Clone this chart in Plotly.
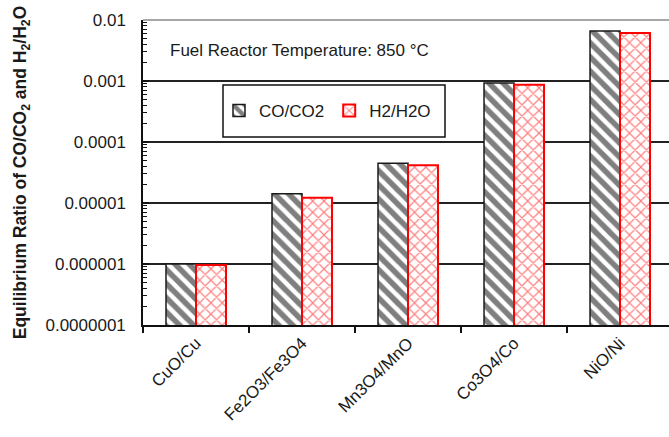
import plotly.graph_objects as go

# Redox couples and equilibrium ratios at 850 °C
couples = ["CuO/Cu", "Fe2O3/Fe3O4", "Mn3O4/MnO", "Co3O4/Co", "NiO/Ni"]
co_co2 = [1.0e-6, 1.42e-5, 4.5e-5, 9.3e-4, 6.6e-3]
h2_h2o = [9.6e-7, 1.22e-5, 4.15e-5, 8.7e-4, 6.1e-3]

y_tick_vals = [1e-7, 1e-6, 1e-5, 1e-4, 1e-3, 1e-2]
y_tick_text = ["0.0000001", "0.000001", "0.00001", "0.0001", "0.001", "0.01"]

FONT = "Liberation Sans, Arial, sans-serif"
TXT = "#1a1a1a"

W, H = 669, 437
ML, MT, MB = 143, 20, 112
PW, PH = W - ML, H - MT - MB


def px(xp):
    return (xp - ML) / PW


def py(yp):
    return (H - MB - yp) / PH


minor_vals = [m * 10.0 ** e for e in range(-7, -2) for m in range(2, 10)]

fig = go.Figure()
fig.add_trace(go.Bar(
    x=couples, y=co_co2, name="CO/CO2",
    marker=dict(color="white",
                line=dict(color="#1a1a1a", width=1.5),
                pattern=dict(shape="\\", fgcolor="#000000", bgcolor="white",
                             size=10, solidity=0.55)),
))
fig.add_trace(go.Bar(
    x=couples, y=h2_h2o, name="H2/H2O",
    marker=dict(color="white",
                line=dict(color="#ff0000", width=2),
                pattern=dict(shape="x", fgcolor="#ff0000", bgcolor="white",
                             size=8, solidity=0.28)),
))

fig.update_layout(
    width=W, height=H,
    margin=dict(l=ML, r=0, t=MT, b=MB),
    paper_bgcolor="white", plot_bgcolor="white",
    barmode="group", bargap=0.434, bargroupgap=0,
    font=dict(family=FONT, size=17, color=TXT),
    showlegend=True,
    legend=dict(orientation="h", x=px(219), y=py(111),
                xanchor="left", yanchor="middle",
                bgcolor="rgba(0,0,0,0)", borderwidth=0,
                font=dict(family=FONT, size=17, color=TXT),
                itemclick=False),
)

fig.update_xaxes(
    type="category", range=[-0.5, 4.462],
    showline=True, linecolor="#111111", linewidth=1.5,
    ticks="outside", tickson="boundaries", ticklen=6,
    tickcolor="#111111", tickwidth=1.5,
    tickangle=-45, showgrid=False,
    tickfont=dict(family=FONT, size=17, color=TXT),
)

fig.update_yaxes(
    type="log", range=[-7, -2],
    tickmode="array", tickvals=y_tick_vals, ticktext=y_tick_text,
    showline=True, linecolor="#111111", linewidth=1.5,
    ticks="inside", ticklen=6, tickcolor="#111111", tickwidth=1.5,
    ticklabelstandoff=12,
    showgrid=True, gridcolor="#222222", gridwidth=1.5,
    minor=dict(tickmode="array", tickvals=minor_vals, ticks="inside",
               ticklen=4, tickcolor="#111111", tickwidth=1, showgrid=False),
    tickfont=dict(family=FONT, size=17, color=TXT),
    title=dict(text="<b>Equilibrium Ratio of CO/CO<sub>2</sub> and H<sub>2</sub>/H<sub>2</sub>O</b>",
               font=dict(family=FONT, size=17.5, color=TXT), standoff=14),
    automargin=False,
)

# Gray frame line along the top of the plot area
fig.add_shape(type="line", xref="paper", yref="paper",
              x0=0, x1=1, y0=1, y1=1, line=dict(color="#888888", width=1.5))

# Box around the legend
fig.add_shape(type="rect", xref="paper", yref="paper",
              x0=px(223), x1=px(445), y0=py(137), y1=py(85),
              line=dict(color="#111111", width=1.5), fillcolor="white", layer="below")

fig.add_annotation(
    text="Fuel Reactor Temperature: 850 °C",
    xref="paper", yref="paper", x=px(168), y=py(50),
    xanchor="left", yanchor="middle", showarrow=False,
    font=dict(family=FONT, size=17, color=TXT),
)

fig.write_html("out.html")
